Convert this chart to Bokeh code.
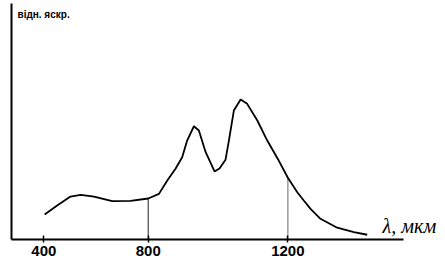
import numpy as np
from bokeh.plotting import figure
from bokeh.models import Range1d, FixedTicker, Label
from bokeh.embed import file_html
from bokeh.resources import INLINE

# Curve (x in axis units; ticks 400/800/1200 are unevenly spaced in the original)
wl = [403, 451, 502, 541, 592, 662, 732, 800, 841, 873, 905, 930, 949, 975, 994,
      1020, 1054, 1073, 1096, 1109, 1128, 1154, 1179, 1218, 1256, 1300, 1335,
      1371, 1396, 1422, 1460, 1524, 1588, 1639]
brightness = [0.179, 0.243, 0.307, 0.319, 0.307, 0.274, 0.276, 0.293, 0.326, 0.421,
              0.507, 0.588, 0.707, 0.809, 0.779, 0.624, 0.486, 0.507, 0.569, 0.707,
              0.921, 1.000, 0.969, 0.850, 0.707, 0.564, 0.441, 0.338, 0.279, 0.219,
              0.148, 0.084, 0.052, 0.034]

tick_pos = [400, 800, 1335]
tick_labels = ["400", "800", "1200"]
drop_x = [800, 1335]
drop_colors = ["#555555", "#8c8c8c"]

X_START, X_AXIS_END, X_END = 276, 1778, 1939
SANS = "'Liberation Sans Narrow', 'Liberation Sans', Arial, sans-serif"

p = figure(width=445, height=265, output_backend="svg", toolbar_location=None,
           x_range=Range1d(X_START, X_END), y_range=Range1d(0, 1.686),
           min_border_left=11, min_border_right=0, min_border_top=3, min_border_bottom=26)
p.outline_line_color = None
p.grid.visible = False
p.background_fill_color = "white"
p.border_fill_color = "white"

# x axis
xa = p.xaxis[0]
xa.ticker = FixedTicker(ticks=tick_pos)
xa.bounds = (X_START, X_AXIS_END)
xa.major_label_overrides = {t: l for t, l in zip(tick_pos, tick_labels)}
xa.axis_line_width = 2
xa.axis_line_color = "black"
xa.major_tick_in = 4
xa.major_tick_out = 3
xa.major_tick_line_width = 1.5
xa.major_tick_line_color = "black"
xa.minor_tick_line_color = None
xa.major_label_text_font = SANS
xa.major_label_text_font_style = "bold"
xa.major_label_text_font_size = "15px"
xa.major_label_text_color = "black"
xa.major_label_standoff = 3

# y axis: line only
ya = p.yaxis[0]
ya.ticker = FixedTicker(ticks=[])
ya.axis_line_width = 2
ya.axis_line_color = "black"
ya.major_tick_line_color = None
ya.minor_tick_line_color = None
ya.major_tick_in = 0
ya.major_tick_out = 0
ya.major_label_standoff = 0

# drop lines
drop_top = np.interp(drop_x, wl, brightness)
p.segment(x0=drop_x, y0=[0, 0], x1=drop_x, y1=drop_top, line_color=drop_colors, line_width=1.3)

# curve
p.line(wl, brightness, line_color="black", line_width=1.8)

p.add_layout(Label(x=6, y=220, x_units="screen", y_units="screen", text="відн. яскр.",
                   text_font=SANS, text_font_style="bold",
                   text_font_size="10px", text_color="black", text_baseline="bottom"))

p.add_layout(Label(x=1698, y=0.10, text="λ, мкм", text_font="'Liberation Serif', serif",
                   text_font_style="italic", text_font_size="20px", text_color="black",
                   text_baseline="alphabetic"))

open("out.html", "w").write(file_html(p, INLINE))
